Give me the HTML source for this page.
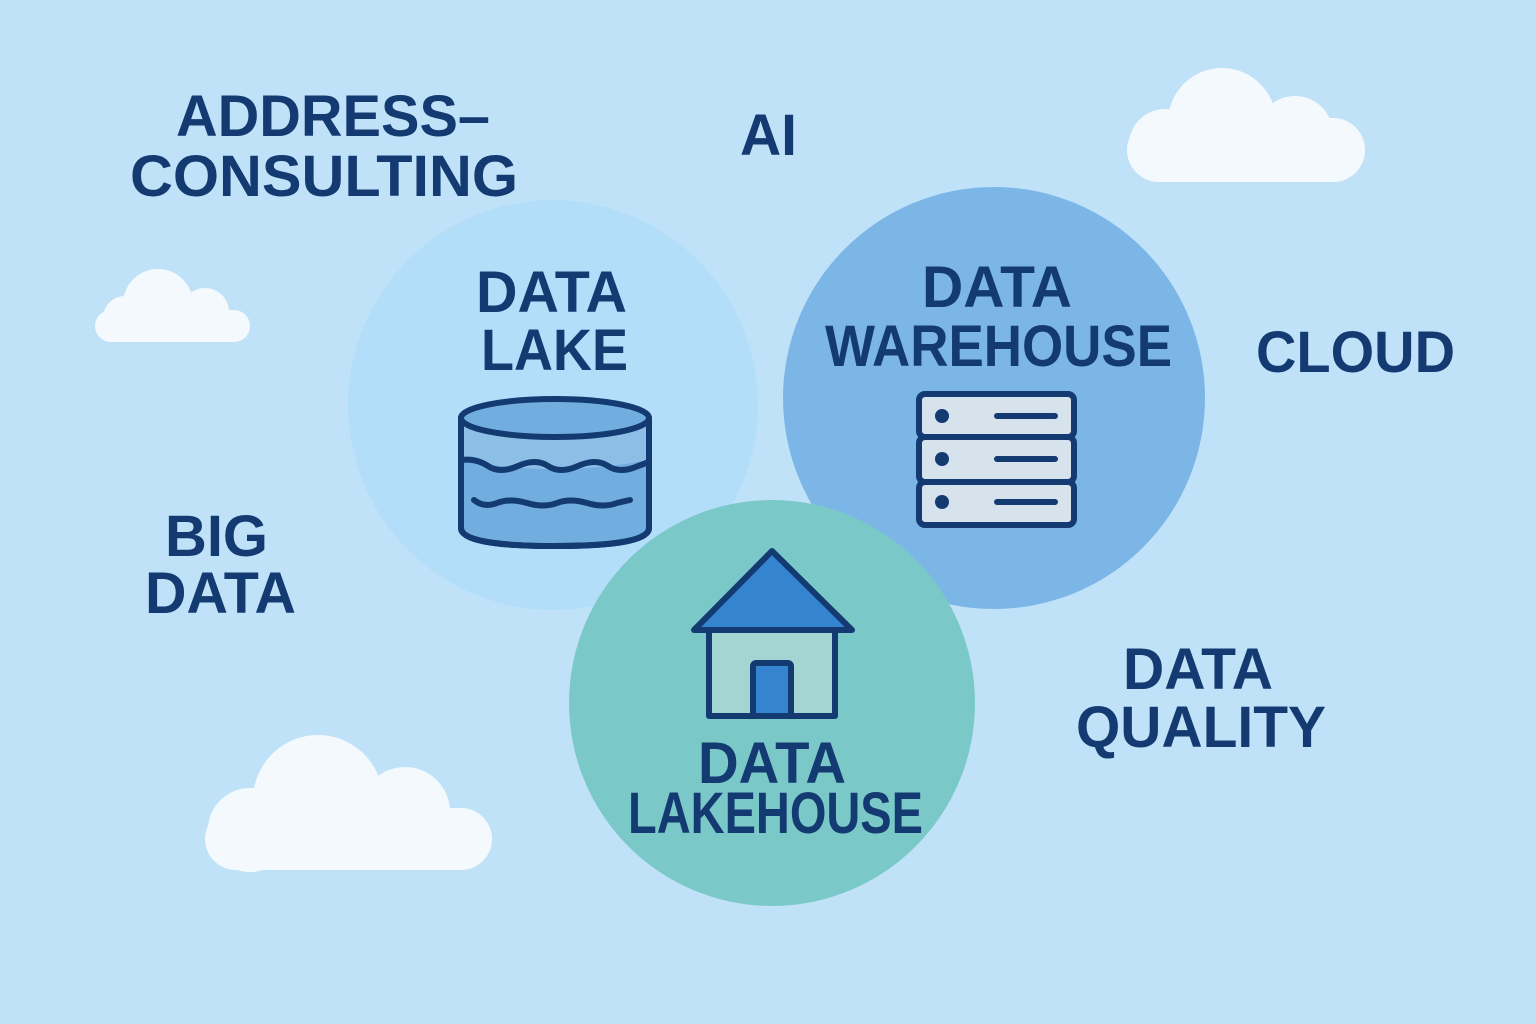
<!DOCTYPE html>
<html><head><meta charset="utf-8"><style>
html,body{margin:0;padding:0;width:1536px;height:1024px;overflow:hidden;background:#c0e2f8}
svg{display:block}
text{font-family:"Liberation Sans",sans-serif;font-weight:bold;fill:#143a72}
</style></head><body>
<svg width="1536" height="1024" viewBox="0 0 1536 1024">
<rect width="1536" height="1024" fill="#c0e2f8"/>
<!-- clouds -->
<g fill="#f4f9fd">
<rect x="1127" y="118" width="238" height="64" rx="32"/>
<circle cx="1222" cy="122" r="54"/><circle cx="1295" cy="134" r="38"/><circle cx="1165" cy="145" r="36"/>
<rect x="95" y="310" width="155" height="32" rx="16"/>
<circle cx="158" cy="304" r="35"/><circle cx="205" cy="312" r="24"/><circle cx="125" cy="318" r="22"/>
<rect x="205" y="808" width="287" height="62" rx="31"/>
<circle cx="318" cy="800" r="65"/><circle cx="405" cy="812" r="45"/><circle cx="250" cy="830" r="42"/>
</g>
<!-- circles -->
<circle cx="553" cy="405" r="205" fill="#b2defa"/>
<circle cx="994" cy="398" r="211" fill="#7cb6e6"/>
<circle cx="772" cy="703" r="203" fill="#7bc8c8"/>
<!-- cylinder -->
<g stroke="#143a72" stroke-width="6" stroke-linecap="round">
<path d="M461 418 V528 Q461 546 555 546 Q649 546 649 528 V418" fill="#72ade0"/>
<path d="M461 418 V460 Q555 478 649 460 V418" fill="#8dbfe6" stroke="none"/>
<ellipse cx="555" cy="418" rx="94" ry="19" fill="#72ade0"/>
<path d="M461 460 Q476 458 488 466 T518 466 T548 466 T578 466 T608 466 T638 466 L649 462" fill="none"/>
<path d="M474 500 Q484 508 497 503 T527 503 T557 503 T587 503 T617 503 L630 500" fill="none"/>
<path d="M461 418 V528 Q461 546 555 546 Q649 546 649 528 V418" fill="none"/>
</g>
<!-- server -->
<g stroke="#143a72" stroke-width="6" fill="#d6e2ec">
<rect x="919" y="394" width="155" height="43" rx="6"/>
<rect x="919" y="437" width="155" height="45" rx="6"/>
<rect x="919" y="482" width="155" height="43" rx="6"/>
</g>
<g fill="#143a72"><circle cx="942" cy="416" r="7"/><circle cx="942" cy="459" r="7"/><circle cx="942" cy="502" r="7"/></g>
<g stroke="#143a72" stroke-width="6" stroke-linecap="round"><path d="M997 416H1055M997 459H1055M997 502H1055"/></g>
<!-- house -->
<g stroke="#143a72" stroke-width="6" stroke-linejoin="round">
<rect x="709" y="628" width="126" height="88" fill="#a3d6d2"/>
<path d="M772 551 L694 630 H852 Z" fill="#3484d0"/>
<rect x="753" y="663" width="38" height="53" rx="3" fill="#3484d0"/>
</g>
<!-- text -->
<g font-size="58">
<text x="176" y="136" textLength="314" lengthAdjust="spacingAndGlyphs">ADDRESS–</text>
<text x="130" y="196" textLength="388" lengthAdjust="spacingAndGlyphs">CONSULTING</text>
<text x="740" y="155" textLength="57" lengthAdjust="spacingAndGlyphs">AI</text>
<text x="476" y="312" textLength="151" lengthAdjust="spacingAndGlyphs">DATA</text>
<text x="481" y="370" textLength="147" lengthAdjust="spacingAndGlyphs">LAKE</text>
<text x="922" y="307" textLength="150" lengthAdjust="spacingAndGlyphs">DATA</text>
<text x="825" y="366" textLength="347" lengthAdjust="spacingAndGlyphs">WAREHOUSE</text>
<text x="1256" y="372" textLength="199" lengthAdjust="spacingAndGlyphs">CLOUD</text>
<text x="165" y="556" textLength="103" lengthAdjust="spacingAndGlyphs">BIG</text>
<text x="145" y="613" textLength="151" lengthAdjust="spacingAndGlyphs">DATA</text>
<text x="698" y="783" textLength="148" lengthAdjust="spacingAndGlyphs">DATA</text>
<text x="628" y="833" textLength="295" lengthAdjust="spacingAndGlyphs">LAKEHOUSE</text>
<text x="1123" y="689" textLength="150" lengthAdjust="spacingAndGlyphs">DATA</text>
<text x="1076" y="747" textLength="250" lengthAdjust="spacingAndGlyphs">QUALITY</text>
</g>
</svg>
</body></html>
